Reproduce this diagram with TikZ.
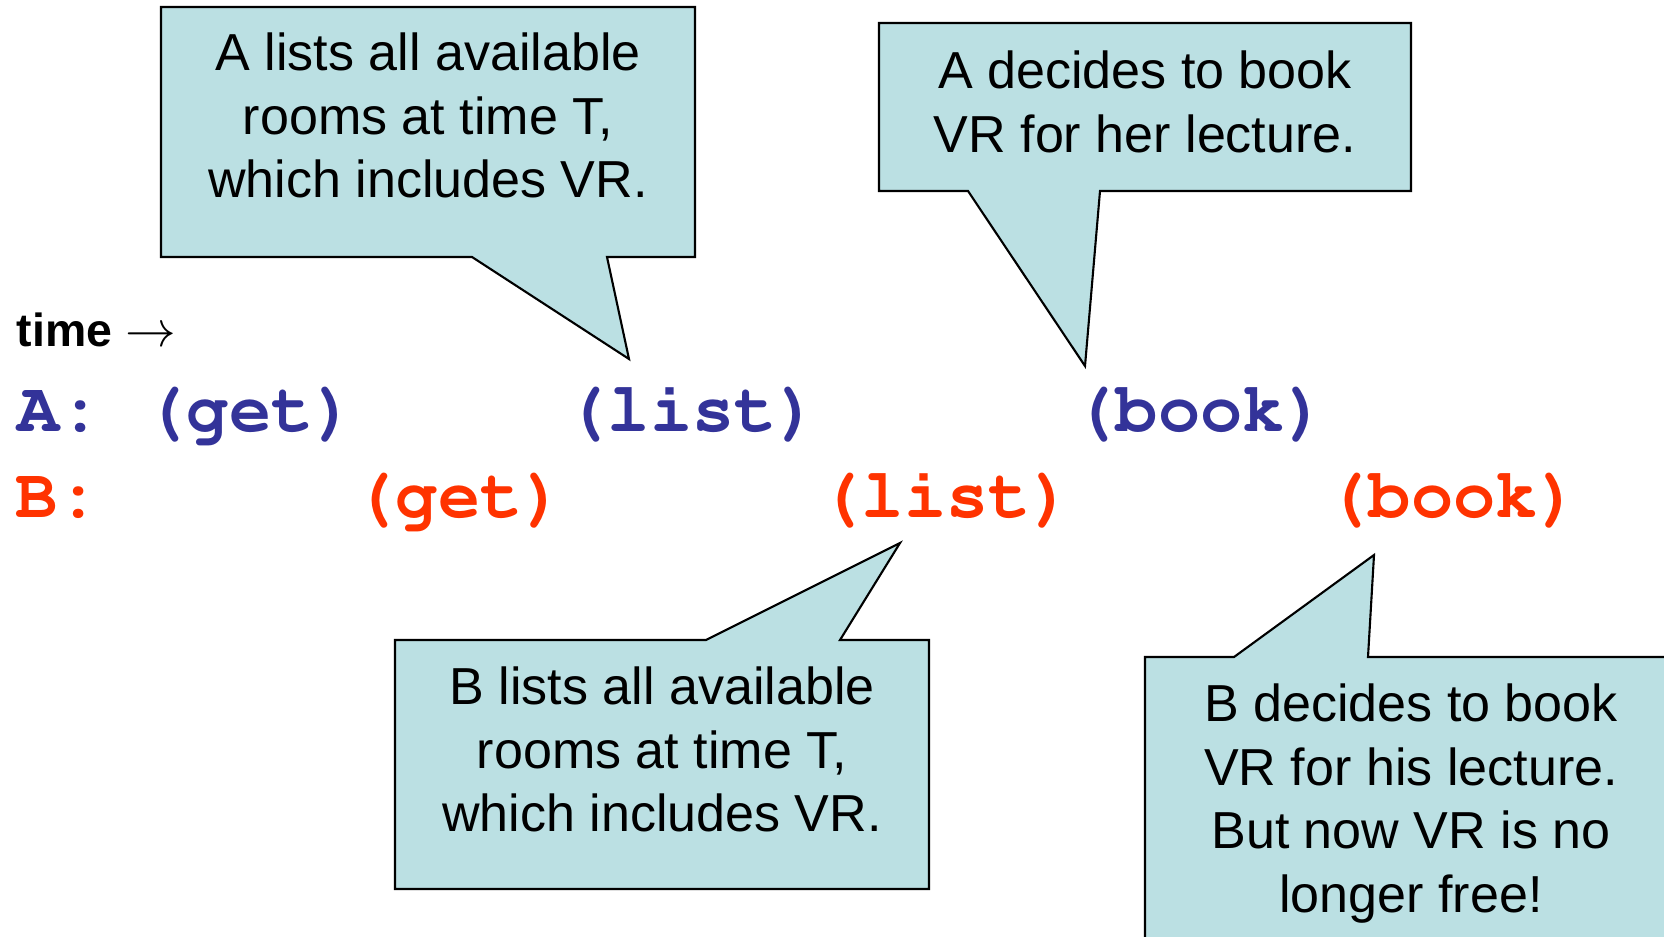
\documentclass[tikz,border=0pt]{standalone}
\usepackage[T1]{fontenc}
\usepackage{fontspec}
\setmainfont{Liberation Sans}
\definecolor{calloutfill}{HTML}{BBE0E3}
\definecolor{ablue}{HTML}{333399}
\definecolor{bred}{HTML}{FF3300}

\begin{document}
\begin{tikzpicture}[x=0.01cm, y=-0.01cm,
		bubble/.style={draw=black, fill=calloutfill, line width=0.6pt},
		note/.style={anchor=north, inner sep=0pt, align=center, font=\fontsize{14.8}{18.1}\selectfont},
		evA/.style={anchor=base west, inner sep=0pt, text=ablue, font=\fontencoding{T1}\fontfamily{pcr}\fontseries{b}\fontsize{20}{24}\selectfont},
		evB/.style={evA, text=bred}]
		\useasboundingbox (0,0) rectangle (1664,937);
		\clip (0,0) rectangle (1664,937);
		
		% callouts
		\draw[bubble] (161,7) -- (695,7) -- (695,257) -- (607,257) -- (629,359) -- (472,257) -- (161,257) -- cycle;
		\draw[bubble] (879,23) -- (1411,23) -- (1411,191) -- (1100,191) -- (1085,366) -- (968,191) -- (879,191) -- cycle;
		\draw[bubble] (395,640) -- (706,640) -- (900,543) -- (840,640) -- (929,640) -- (929,889) -- (395,889) -- cycle;
		\draw[bubble] (1145,657) -- (1234,657) -- (1374,555) -- (1368,657) -- (1700,657) -- (1700,980) -- (1145,980) -- cycle;
		
		\node[note] (noteAlist) at (428,32) {A lists all available\\rooms at time T,\\which includes VR.};
		\node[note] (noteAbook) at (1145,50) {A decides to book\\VR for her lecture.};
		\node[note] (noteBlist) at (662,666) {B lists all available\\rooms at time T,\\which includes VR.};
		\node[note] (noteBbook) at (1411,683) {B decides to book\\VR for his lecture.\\But now VR is no\\longer free!};
		
		% time line
		\node[anchor=base west, inner sep=0pt, font=\fontsize{13.2}{16}\selectfont\bfseries] (time) at (16,347) {time {\fontsize{14.6}{16}\selectfont$\rightarrow$}};
		
		\node[evA] (labA) at (17,431) {A:};
		\node[evA] (getA) at (144,431) {(get)};
		\node[evA] (listA) at (565,431) {(list)};
		\node[evA] (bookA) at (1073,431) {(book)};
		
		\node[evB] (labB) at (15,517) {B:};
		\node[evB] (getB) at (353,517) {(get)};
		\node[evB] (listB) at (819,517) {(list)};
		\node[evB] (bookB) at (1326,517) {(book)};
		
	\end{tikzpicture}
\end{document}
